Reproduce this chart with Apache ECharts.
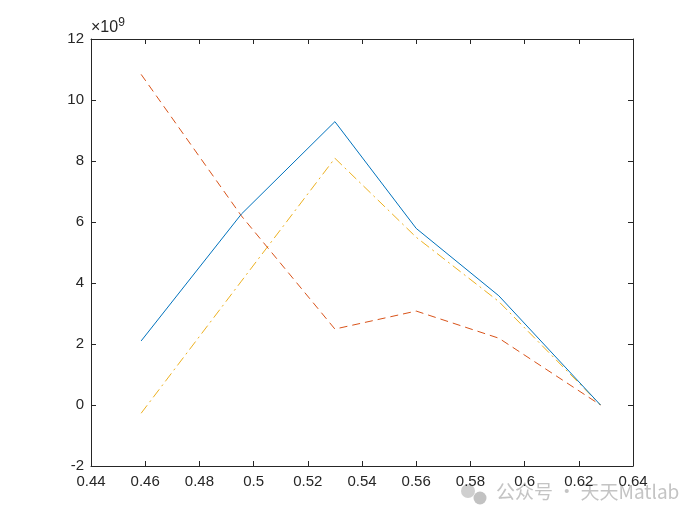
<!DOCTYPE html>
<html><head><meta charset="utf-8">
<script src="https://cdn.jsdelivr.net/npm/echarts@6/dist/echarts.min.js"></script>
<style>html,body{margin:0;padding:0;background:#fff}#c{width:700px;height:525px}</style>
</head><body><div id="c"></div>
<script>
const xValues = [0.4585, 0.4955, 0.530, 0.5600, 0.5905, 0.628];
const series1 = [2.10e9, 6.26e9, 9.29e9, 5.79e9, 3.58e9, 0.0];
const series2 = [10.84e9, 6.20e9, 2.49e9, 3.08e9, 2.19e9, 0.0];
const series3 = [-0.27e9, 4.06e9, 8.09e9, 5.50e9, 3.39e9, 0.0];
const colors = ['#0072BD', '#D95319', '#EDB120'];
const lineTypes = ['solid', [8, 5], [10, 4, 2, 4]];
const allSeries = [series1, series2, series3];

const font = 'Liberation Sans, Arial, Helvetica, sans-serif';
const axisColor = '#262626';
function fmtX(v){ return String(parseFloat(v.toFixed(2))); }
const chart = echarts.init(document.getElementById('c'));
const baseX = {type:'value', min:0.44, max:0.64, interval:0.02,
  axisLine:{show:true,onZero:false,lineStyle:{color:axisColor,width:1}},
  axisTick:{show:true,inside:true,length:5,lineStyle:{color:axisColor}},
  splitLine:{show:false}};
const baseY = {type:'value', min:-2e9, max:12e9, interval:2e9,
  axisLine:{show:true,onZero:false,lineStyle:{color:axisColor,width:1}},
  axisTick:{show:true,inside:true,length:5,lineStyle:{color:axisColor}},
  splitLine:{show:false}};
chart.setOption({
  animation:false,
  backgroundColor:'#fff',
  grid:{left:91, top:39, right:67, bottom:59, containLabel:false},
  xAxis:[
    Object.assign({}, baseX, {position:'bottom',
      axisLabel:{show:true, margin:8, color:axisColor, fontSize:15, fontFamily:font, formatter:fmtX}}),
    Object.assign({}, baseX, {position:'top', axisLabel:{show:false}})
  ],
  yAxis:[
    Object.assign({}, baseY, {position:'left',
      axisLabel:{show:true, margin:7, color:axisColor, fontSize:15, fontFamily:font,
        formatter:v => String(Math.round(v/1e9))}}),
    Object.assign({}, baseY, {position:'right', axisLabel:{show:false}})
  ],
  series: allSeries.map((s,i)=>({
    type:'line', xAxisIndex:0, yAxisIndex:0,
    data: xValues.map((x,j)=>[x, s[j]]),
    showSymbol:false, symbol:'none',
    lineStyle:{color:colors[i], width:1, type:lineTypes[i]},
    z: 3 - i
  })),
  graphic:[
    {type:'text', left:91, top:17, style:{
      text:'{a|×10}{b|9}', rich:{
        a:{fontSize:16, fontFamily:font, fill:axisColor, verticalAlign:'bottom'},
        b:{fontSize:12, fontFamily:font, fill:axisColor, verticalAlign:'top', padding:[0,0,7,0]}
      }}},
    {type:'circle', shape:{cx:468, cy:491, r:7}, style:{fill:'#cfcfcf'}},
    {type:'circle', shape:{cx:480, cy:498, r:6.5}, style:{fill:'#c2c2c2'}},
    {type:'text', left:496, top:482, style:{
      text:'公众号 · 天天Matlab', fontSize:19, fontFamily:'Noto Sans CJK SC, sans-serif', fill:'#c4c4c4'}}
  ]
});
</script></body></html>
